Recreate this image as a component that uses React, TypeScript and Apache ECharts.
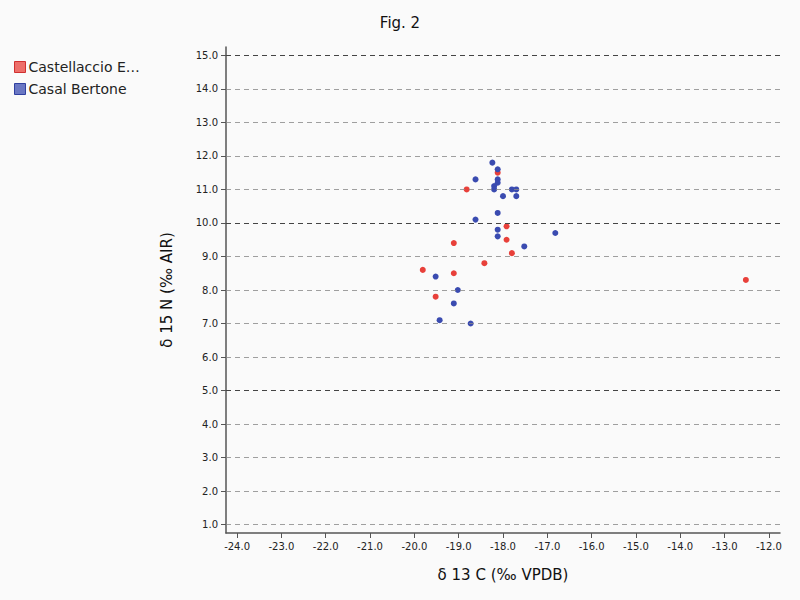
import { useEffect, useRef } from 'react'
import * as echarts from 'echarts'

const castellaccio: number[][] = [
  [-18.82, 11.0], [-18.12, 11.5], [-17.92, 9.9], [-19.11, 9.4], [-17.92, 9.5], [-17.8, 9.1],
  [-18.42, 8.8], [-19.81, 8.6], [-19.11, 8.5], [-19.52, 7.8], [-12.52, 8.3],
]
const casalBertone: number[][] = [
  [-18.24, 11.8], [-18.12, 11.6], [-18.62, 11.3], [-18.12, 11.3], [-18.12, 11.2], [-18.2, 11.1],
  [-18.2, 11.0], [-17.8, 11.0], [-17.7, 11.0], [-18.0, 10.8], [-17.7, 10.8], [-18.12, 10.3],
  [-18.62, 10.1], [-18.12, 9.8], [-18.12, 9.6], [-16.82, 9.7], [-17.52, 9.3], [-19.52, 8.4],
  [-19.02, 8.0], [-19.11, 7.6], [-19.43, 7.1], [-18.73, 7.0],
]
const xTicks = [-24, -23, -22, -21, -20, -19, -18, -17, -16, -15, -14, -13, -12]
const yTicks = [1, 2, 3, 4, 5, 6, 7, 8, 9, 10, 11, 12, 13, 14, 15]
const majorY = [5, 10, 15]

export default function App() {
  const chartRef = useRef<HTMLDivElement>(null)

  useEffect(() => {
    if (!chartRef.current) return
    document.body.style.margin = '0'
    const chart = echarts.init(chartRef.current, null, { renderer: 'svg' })
    const font = 'DejaVu Sans'
    chart.setOption({
      animation: false,
      backgroundColor: '#fafafa',
      textStyle: { fontFamily: font },
      title: { text: 'Fig. 2', left: 'center', top: 10, textStyle: { fontSize: 15, fontWeight: 'normal', color: '#111', fontFamily: font } },
      legend: {
        orient: 'vertical', left: 9, top: 55, itemWidth: 11, itemHeight: 11, itemGap: 8,
        icon: 'rect',
        formatter: (n: string) => (n.length > 15 ? n.slice(0, 14) + '…' : n),
        textStyle: { fontSize: 14, color: '#222', fontFamily: font, padding: [0, 0, 0, -2] },
        data: [
          { name: 'Castellaccio Europarco', itemStyle: { color: 'rgba(232,64,58,0.75)', borderColor: '#d03030', borderWidth: 1 } },
          { name: 'Casal Bertone', itemStyle: { color: 'rgba(58,75,176,0.75)', borderColor: '#3040a0', borderWidth: 1 } },
        ],
      },
      grid: { left: 226, right: 20, top: 47, bottom: 67 },
      xAxis: {
        type: 'value', min: -24.25, max: -11.75,
        name: 'δ 13 C (‰ VPDB)', nameLocation: 'middle', nameGap: 34,
        nameTextStyle: { fontSize: 15, color: '#111' },
        axisLine: { lineStyle: { color: '#555', width: 1.5 } },
        axisTick: { show: true, customValues: xTicks, lineStyle: { color: '#555' } },
        axisLabel: { customValues: xTicks, fontSize: 10, color: '#222', formatter: (v: number) => v.toFixed(1) },
        splitLine: { show: false },
      },
      yAxis: {
        type: 'value', min: 0.75, max: 15.25,
        name: 'δ 15 N (‰ AIR)', nameLocation: 'middle', nameGap: 52,
        nameTextStyle: { fontSize: 15, color: '#111' },
        axisLine: { show: true, lineStyle: { color: '#555', width: 1.5 } },
        axisTick: { show: true, customValues: yTicks, lineStyle: { color: '#555' } },
        axisLabel: { customValues: yTicks, fontSize: 10, color: '#222', formatter: (v: number) => v.toFixed(1) },
        splitLine: { show: false },
      },
      series: [
        {
          name: 'grid', type: 'line', data: [], silent: true,
          markLine: {
            symbol: 'none', silent: true, label: { show: false },
            data: yTicks.map((v) => ({
              yAxis: v,
              lineStyle: { type: [5, 4], color: majorY.includes(v) ? '#444' : '#888', width: majorY.includes(v) ? 1 : 0.8 },
            })),
          },
        },
        { name: 'Castellaccio Europarco', type: 'scatter', symbolSize: 6, itemStyle: { color: '#e8403a', opacity: 1 }, data: castellaccio },
        { name: 'Casal Bertone', type: 'scatter', symbolSize: 6, itemStyle: { color: '#3a4bb0', opacity: 1 }, data: casalBertone },
      ],
    })
    return () => chart.dispose()
  }, [])

  return <div ref={chartRef} style={{ width: 800, height: 600 }} />
}
